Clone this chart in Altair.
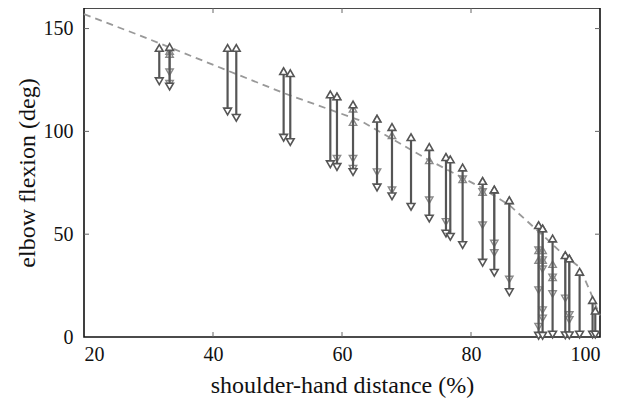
import altair as alt
import pandas as pd

# axis tick values
x_ticks = [20, 40, 60, 80, 100]
y_ticks = [0, 50, 100, 150]
x_inner_ticks = [40, 60, 80]
y_inner_ticks = [50, 100, 150]

# dashed reference curve
fit_x = [20, 28.7, 41.6, 51.0, 62.8, 73.5, 81.4, 86.0, 89.7, 91.3, 94.0, 96.8, 98.5, 99.3, 100]
fit_y = [157, 146.6, 130.4, 118.6, 105.3, 86.0, 73.0, 64.0, 53.5, 49.0, 41.0, 34.0, 22.0, 15.5, 10.5]

# main ranges (dark arrows)
main_x = [31.67, 33.27, 42.26, 43.61, 50.95, 51.98, 58.19, 59.22, 61.71, 65.43,
          67.75, 70.70, 73.53, 76.12, 76.79, 78.70, 81.80, 83.61, 85.94, 90.48,
          91.10, 92.65, 94.62, 95.24, 96.84, 98.85, 99.27]
main_top = [140.6, 141.0, 140.6, 140.6, 129.3, 128.3, 118.0, 117.0, 113.1, 106.2,
            102.1, 97.2, 92.4, 87.5, 86.4, 82.4, 75.9, 71.7, 66.5, 54.4,
            52.8, 47.9, 39.8, 38.2, 31.7, 18.0, 12.8]
main_bottom = [124.4, 121.8, 109.7, 106.6, 96.9, 94.8, 84.0, 82.7, 80.2, 72.7,
               68.4, 63.3, 57.6, 50.3, 48.7, 44.7, 36.1, 31.2, 21.8, 0.6,
               0.6, 1.2, 0.8, 0.8, 1.2, 1.2, 1.2]

# additional ranges (lighter arrows)
extra_x = [33.27, 33.27, 59.22, 61.71, 61.71, 65.43, 67.75, 73.53, 76.12, 78.70,
           81.80, 81.80, 83.61, 83.61, 85.94, 90.48, 90.48, 90.48, 91.10, 91.10,
           91.10, 91.10, 92.65, 92.65, 94.62, 95.24, 95.24]
extra_top = [139.0, 137.6, 117.0, 111.0, 104.5, 106.2, 98.1, 85.9, 87.5, 76.7,
             75.9, 70.5, 71.7, 71.7, 66.5, 54.4, 42.2, 37.4, 52.8, 42.2,
             37.4, 52.8, 35.4, 29.0, 39.8, 38.2, 38.2]
extra_bottom = [123.2, 128.8, 86.7, 81.9, 86.7, 80.2, 71.4, 66.5, 56.0, 76.7,
                70.5, 54.4, 45.5, 40.9, 28.0, 42.2, 22.8, 5.0, 37.4, 13.1,
                9.1, 33.0, 29.0, 20.9, 18.8, 10.7, 8.3]

W, H = 516, 329
FONT = "Liberation Serif"

fit_df = pd.DataFrame({"x": fit_x, "y": fit_y})
main_df = pd.DataFrame({"x": main_x, "top": main_top, "bottom": main_bottom})
extra_df = pd.DataFrame({"x": extra_x, "top": extra_top, "bottom": extra_bottom})
xt_df = pd.DataFrame({"t": x_inner_ticks})
yt_df = pd.DataFrame({"t": y_inner_ticks})

xscale = alt.Scale(domain=[20, 100], nice=False, zero=False)
yscale = alt.Scale(domain=[0, 160], nice=False)

axis_style = dict(
    labelFont=FONT, labelFontSize=20, labelColor="#111111",
    titleFont=FONT, titleFontSize=24, titleFontWeight="normal", titleColor="#111111",
    tickSize=0, ticks=False, domain=False, grid=False,
)
xaxis = alt.Axis(values=x_ticks, title="shoulder-hand distance (%)", labelPadding=7,
                 titlePadding=9, **axis_style)
yaxis = alt.Axis(values=y_ticks, title="elbow flexion (deg)", labelPadding=11,
                 titlePadding=4, **axis_style)

base_line = alt.Chart(fit_df).mark_line(
    strokeDash=[7, 5], color="#999999", strokeWidth=1.8
).encode(
    x=alt.X("x:Q", scale=xscale, axis=xaxis),
    y=alt.Y("y:Q", scale=yscale, axis=yaxis),
)

extra_rule = alt.Chart(extra_df).mark_rule(color="#8a8a8a", strokeWidth=1.6).encode(
    x="x:Q", y="top:Q", y2="bottom:Q")
extra_up = alt.Chart(extra_df).mark_point(
    shape="triangle-up", size=55, filled=False, color="#8a8a8a", strokeWidth=1.4, opacity=1
).encode(x="x:Q", y="top:Q")
extra_down = alt.Chart(extra_df).mark_point(
    shape="triangle-down", size=55, filled=False, color="#8a8a8a", strokeWidth=1.4, opacity=1
).encode(x="x:Q", y="bottom:Q")

main_rule = alt.Chart(main_df).mark_rule(color="#555555", strokeWidth=2.2).encode(
    x="x:Q", y="top:Q", y2="bottom:Q")
main_up = alt.Chart(main_df).mark_point(
    shape="triangle-up", size=60, fill="white", fillOpacity=1, stroke="#555555",
    strokeWidth=1.6, opacity=1
).encode(x="x:Q", y="top:Q")
main_down = alt.Chart(main_df).mark_point(
    shape="triangle-down", size=60, fill="white", fillOpacity=1, stroke="#555555",
    strokeWidth=1.6, opacity=1
).encode(x="x:Q", y="bottom:Q")

tick_style = dict(color="#666666", strokeWidth=1)
xt_bottom = alt.Chart(xt_df).mark_rule(**tick_style).encode(
    x="t:Q", y=alt.value(H), y2=alt.value(H - 5))
xt_top = alt.Chart(xt_df).mark_rule(**tick_style).encode(
    x="t:Q", y=alt.value(0), y2=alt.value(5))
yt_left = alt.Chart(yt_df).mark_rule(**tick_style).encode(
    y="t:Q", x=alt.value(0), x2=alt.value(5))
yt_right = alt.Chart(yt_df).mark_rule(**tick_style).encode(
    y="t:Q", x=alt.value(W), x2=alt.value(W - 5))

chart = alt.layer(
    base_line, xt_bottom, xt_top, yt_left, yt_right,
    extra_rule, extra_up, extra_down,
    main_rule, main_up, main_down,
).properties(
    width=W, height=H,
    autosize=alt.AutoSizeParams(type="none"),
    padding={"left": 76, "top": 0, "right": 10, "bottom": 64},
    background="white",
).configure_view(
    stroke="#111111", strokeWidth=1.6
)

chart.save("out.html", embed_options={"renderer": "svg", "actions": False})
